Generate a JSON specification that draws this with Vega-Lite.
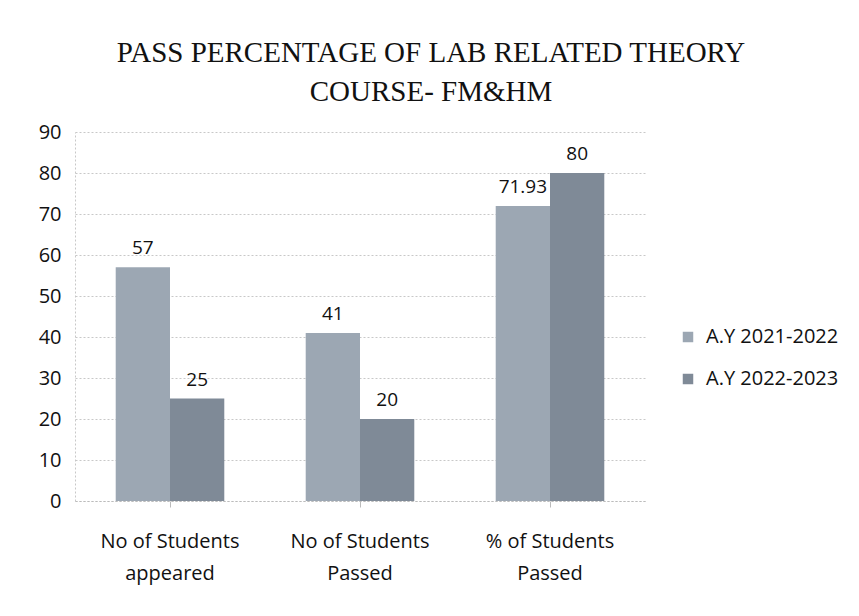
{
  "$schema": "https://vega.github.io/schema/vega-lite/v6.json",
  "autosize": {"type": "none"},
  "width": 570,
  "height": 369,
  "padding": {"left": 75, "top": 132, "right": 214, "bottom": 115},
  "background": "#ffffff",
  "config": {"view": {"stroke": null}},
  "title": {
    "text": ["PASS PERCENTAGE OF LAB RELATED THEORY", "COURSE- FM&HM"],
    "font": "Liberation Serif",
    "fontSize": 29,
    "fontWeight": "normal",
    "color": "#111111",
    "anchor": "middle",
    "dx": 71,
    "offset": 15,
    "lineHeight": 39
  },
  "data": {
    "values": [
      {"category": "No of Students|appeared", "year": "A.Y 2021-2022", "value": 57, "label": "57"},
      {"category": "No of Students|appeared", "year": "A.Y 2022-2023", "value": 25, "label": "25"},
      {"category": "No of Students|Passed", "year": "A.Y 2021-2022", "value": 41, "label": "41"},
      {"category": "No of Students|Passed", "year": "A.Y 2022-2023", "value": 20, "label": "20"},
      {"category": "% of Students|Passed", "year": "A.Y 2021-2022", "value": 71.93, "label": "71.93"},
      {"category": "% of Students|Passed", "year": "A.Y 2022-2023", "value": 80, "label": "80"}
    ]
  },
  "encoding": {
    "x": {
      "field": "category",
      "type": "nominal",
      "sort": null,
      "scale": {"paddingInner": 0, "paddingOuter": 0},
      "axis": {
        "title": null,
        "labelAngle": 0,
        "labelExpr": "split(datum.label, '|')",
        "labelFont": "Open Sans",
        "labelFontSize": 20,
        "labelColor": "#111111",
        "labelLineHeight": 32,
        "labelPadding": 24,
        "ticks": true,
        "tickColor": "#bbbbbb",
        "tickSize": 6,
        "domainColor": "#bbbbbb",
        "domainDash": [2, 2],
        "grid": false
      }
    },
    "xOffset": {
      "field": "year",
      "type": "nominal",
      "scale": {"paddingInner": 0, "paddingOuter": 0.75}
    },
    "y": {
      "field": "value",
      "type": "quantitative",
      "scale": {"domain": [0, 90]},
      "axis": {
        "title": null,
        "values": [0, 10, 20, 30, 40, 50, 60, 70, 80, 90],
        "labelFont": "Open Sans",
        "labelFontSize": 20,
        "labelColor": "#111111",
        "labelPadding": 14,
        "ticks": false,
        "domainColor": "#c8c8c8",
        "domainDash": [2, 2],
        "gridColor": "#c8c8c8",
        "gridDash": [2, 2]
      }
    }
  },
  "layer": [
    {
      "mark": {"type": "bar"},
      "encoding": {
        "color": {
          "field": "year",
          "type": "nominal",
          "scale": {"range": ["#9ca7b3", "#7f8a97"]},
          "legend": {
            "title": null,
            "orient": "none",
            "legendX": 603,
            "legendY": 195,
            "symbolType": "square",
            "symbolSize": 110,
            "rowPadding": 22,
            "labelFont": "Open Sans",
            "labelFontSize": 20,
            "labelColor": "#111111",
            "labelOffset": 8
          }
        }
      }
    },
    {
      "mark": {"type": "text", "baseline": "bottom", "dy": -9, "font": "Open Sans", "fontSize": 19, "color": "#111111"},
      "encoding": {
        "text": {"field": "label"}
      }
    }
  ]
}
